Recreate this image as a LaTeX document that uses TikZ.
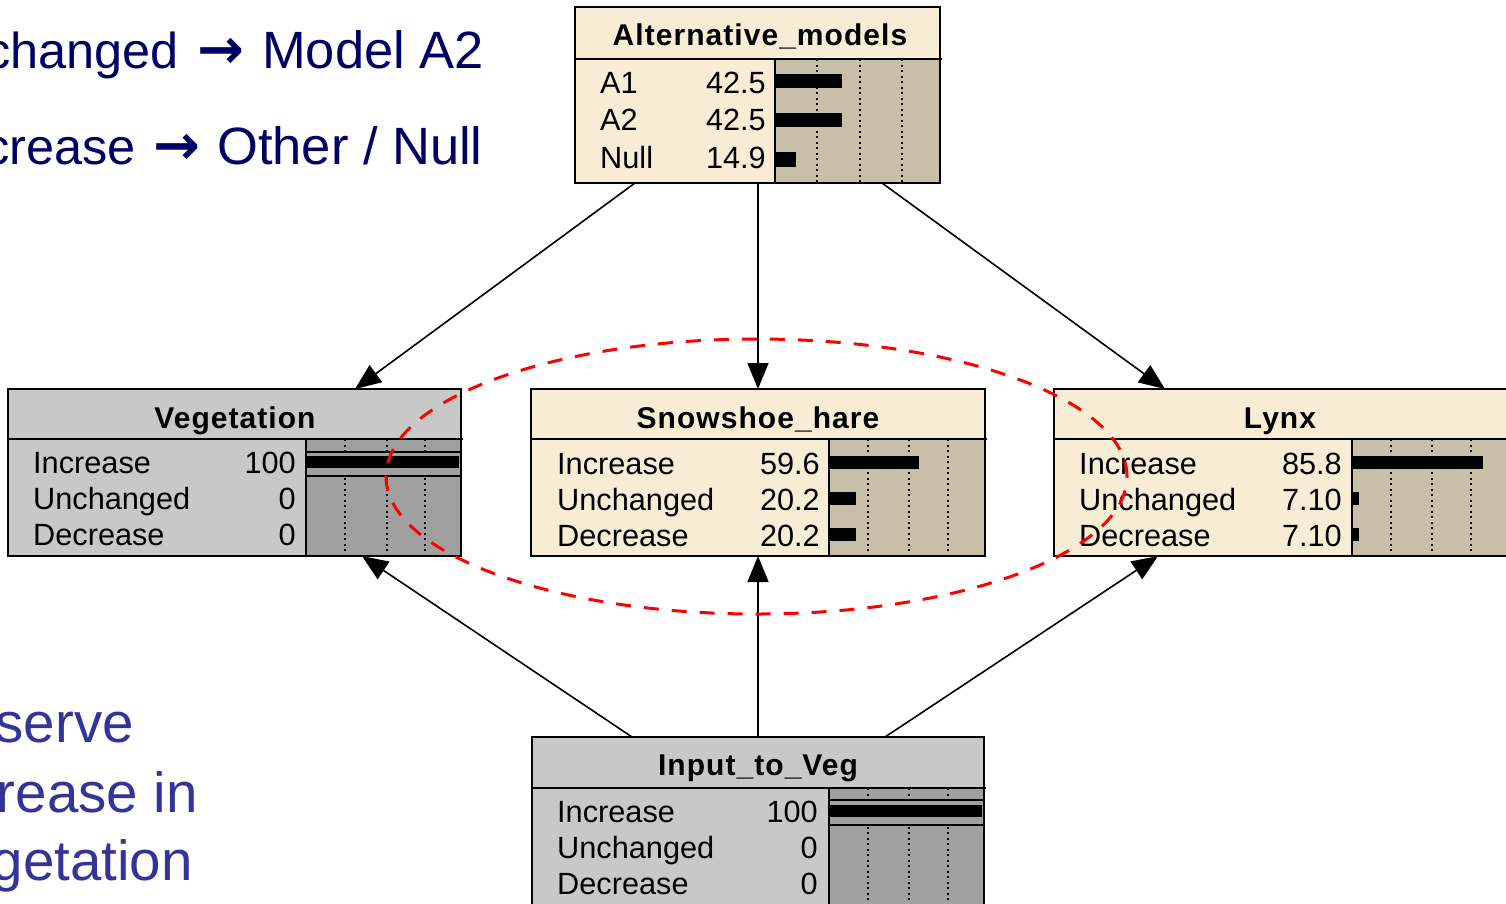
\documentclass[tikz,border=0pt]{standalone}
\usepackage{fontspec}
\setmainfont{Liberation Sans}
\newfontfamily\symfont{DejaVu Sans}
\usetikzlibrary{arrows.meta,calc}
\definecolor{beige}{HTML}{F7EDD4}
\definecolor{beigebar}{HTML}{C8BFA9}
\definecolor{lgray}{HTML}{C8C8C8}
\definecolor{dgray}{HTML}{A0A0A0}
\definecolor{navy}{HTML}{000066}
\definecolor{slate}{HTML}{333399}
\newcommand\rowf{\fontsize{30.7}{36}\selectfont}
\newcommand\ttlf{\fontsize{30}{36}\selectfont\bfseries\addfontfeature{LetterSpace=3.5}}
\tikzset{
  boxbg/.style={inner sep=0pt, outer sep=0pt, draw=none},
  frame/.style={line width=2pt},
  sep/.style={line width=1.6pt},
  grid/.style={line width=2pt, dash pattern=on 2pt off 3.5pt},
  hl/.style={line width=1.5pt},
  ttl/.style={font=\ttlf, anchor=base, inner sep=0pt},
  lbl/.style={font=\rowf, anchor=base west, inner sep=0pt},
  val/.style={font=\rowf, anchor=base east, inner sep=0pt},
  link/.style={line width=1.6pt, -{Triangle[length=26pt,width=21pt]}},
  ring/.style={red, line width=3pt, dash pattern=on 15pt off 13pt},
  bigtxt/.style={font=\fontsize{52.5}{60}\selectfont, text=navy, inner sep=0pt},
  lefttxt/.style={font=\fontsize{50.5}{60}\selectfont, text=navy, inner sep=0pt, anchor=base east},
  arrtxt/.style={font=\fontsize{56}{60}\selectfont\symfont\bfseries, text=navy, inner sep=0pt, anchor=base},
  sidetxt/.style={font=\fontsize{56.5}{66}\selectfont, text=slate, inner sep=0pt, anchor=base east},
}
\begin{document}
\begin{tikzpicture}[x=1pt,y=-1pt]
\useasboundingbox (0,0) rectangle (1506,903);

% ---------- left texts ----------
\node[lefttxt] (t1a) at (179,68) {changed};
\node[arrtxt] (t1b) at (221,68) {→};
\node[bigtxt, anchor=base west] (t1c) at (262,68) {Model A2};
\node[lefttxt] (t2a) at (136,164) {crease};
\node[arrtxt] (t2b) at (177,164) {→};
\node[bigtxt, anchor=base west] (t2c) at (217,164) {Other / Null};
\node[sidetxt] (s1) at (134,742) {serve};
\node[sidetxt] (s2) at (198,812) {rease in};
\node[sidetxt] (s3) at (193,880) {getation};

% ---------- Alternative_models ----------
\node[boxbg, fill=beige, minimum width=365pt, minimum height=176pt] (alt) at (757.5,95) {};
\fill[beigebar] (775,59) rectangle (940,183);
\foreach \x in {817,860,902} \draw[grid] (\x,59) -- (\x,183);
\fill (775,74) rectangle (842,88);
\fill (775,113) rectangle (842,127);
\fill (775,152) rectangle (796,167);
\draw[sep] (575,59) -- (942,59);
\draw[sep] (775,59) -- (775,183);
\draw[frame] (alt.north west) rectangle (alt.south east);
\node[ttl] (altt) at (760,45) {Alternative\_models};
\node[lbl] (altl1) at (600,93) {A1};
\node[lbl] (altl2) at (600,130) {A2};
\node[lbl] (altl3) at (600,168) {Null};
\node[val] (altv1) at (766,93) {42.5};
\node[val] (altv2) at (766,130) {42.5};
\node[val] (altv3) at (766,168) {14.9};

% ---------- Vegetation ----------
\node[boxbg, fill=lgray, minimum width=453pt, minimum height=167pt] (veg) at (234.5,472.5) {};
\fill[dgray] (306,439) rectangle (461,556);
\foreach \x in {345,387,425} \draw[grid] (\x,439) -- (\x,556);
\fill[dgray] (306,452) rectangle (461,476);
\draw[hl] (306,452) -- (461,452);
\draw[hl] (306,476) -- (461,476);
\fill (306,456) rectangle (459,468);
\draw[sep] (8,439) -- (463,439);
\draw[sep] (306,439) -- (306,556);
\draw[frame] (veg.north west) rectangle (veg.south east);
\node[ttl] (vegt) at (235,428) {Vegetation};
\node[lbl] (vegl1) at (33,473) {Increase};
\node[lbl] (vegl2) at (33,509) {Unchanged};
\node[lbl] (vegl3) at (33,545) {Decrease};
\node[val] (vegv1) at (296,473) {100};
\node[val] (vegv2) at (296,509) {0};
\node[val] (vegv3) at (296,545) {0};

% ---------- Snowshoe_hare ----------
\node[boxbg, fill=beige, minimum width=454pt, minimum height=167pt] (hare) at (758,472.5) {};
\fill[beigebar] (829,439) rectangle (985,556);
\foreach \x in {868,909,948} \draw[grid] (\x,439) -- (\x,556);
\fill (829,456) rectangle (919,469);
\fill (829,492) rectangle (856,505);
\fill (829,528) rectangle (856,541);
\draw[sep] (531,439) -- (987,439);
\draw[sep] (829,439) -- (829,556);
\draw[frame] (hare.north west) rectangle (hare.south east);
\node[ttl] (haret) at (758,428) {Snowshoe\_hare};
\node[lbl] (harel1) at (557,474) {Increase};
\node[lbl] (harel2) at (557,510) {Unchanged};
\node[lbl] (harel3) at (557,546) {Decrease};
\node[val] (harev1) at (820,474) {59.6};
\node[val] (harev2) at (820,510) {20.2};
\node[val] (harev3) at (820,546) {20.2};

% ---------- Lynx ----------
\node[boxbg, fill=beige, minimum width=454pt, minimum height=167pt] (lynx) at (1281,472.5) {};
\fill[beigebar] (1352,439) rectangle (1508,556);
\foreach \x in {1391,1432,1471} \draw[grid] (\x,439) -- (\x,556);
\fill (1352,456) rectangle (1483,469);
\fill (1352,492) rectangle (1359,505);
\fill (1352,528) rectangle (1359,541);
\draw[sep] (1054,439) -- (1510,439);
\draw[sep] (1352,439) -- (1352,556);
\draw[frame] (lynx.north west) rectangle (lynx.south east);
\node[ttl] (lynxt) at (1280,428) {Lynx};
\node[lbl] (lynxl1) at (1079,474) {Increase};
\node[lbl] (lynxl2) at (1079,510) {Unchanged};
\node[lbl] (lynxl3) at (1079,546) {Decrease};
\node[val] (lynxv1) at (1342,474) {85.8};
\node[val] (lynxv2) at (1342,510) {7.10};
\node[val] (lynxv3) at (1342,546) {7.10};

% ---------- Input_to_Veg ----------
\node[boxbg, fill=lgray, minimum width=452pt, minimum height=168pt] (inp) at (758,821) {};
\fill[dgray] (829,788) rectangle (984,905);
\foreach \x in {868,909,948} \draw[grid] (\x,788) -- (\x,905);
\fill[dgray] (829,800) rectangle (984,825);
\draw[hl] (829,800) -- (984,800);
\draw[hl] (829,825) -- (984,825);
\fill (829,805) rectangle (982,817);
\draw[sep] (532,788) -- (986,788);
\draw[sep] (829,788) -- (829,905);
\draw[frame] (inp.north west) rectangle (inp.south east);
\node[ttl] (inpt) at (758,775) {Input\_to\_Veg};
\node[lbl] (inpl1) at (557,822) {Increase};
\node[lbl] (inpl2) at (557,858) {Unchanged};
\node[lbl] (inpl3) at (557,894) {Decrease};
\node[val] (inpv1) at (818,822) {100};
\node[val] (inpv2) at (818,858) {0};
\node[val] (inpv3) at (818,894) {0};

% ---------- connectors ----------
\draw[link] ([xshift=-122.5pt]alt.south) -- ([xshift=120.5pt]veg.north);
\draw[link] (alt.south -| hare.north) -- (hare.north);
\draw[link] ([xshift=124.5pt]alt.south) -- ([xshift=-116pt]lynx.north);
\draw[link] ([xshift=-126pt]inp.north) -- ([xshift=127.5pt]veg.south);
\draw[link] (inp.north) -- (hare.south);
\draw[link] ([xshift=127pt]inp.north) -- ([xshift=-123pt]lynx.south);

% ---------- red dashed ellipse ----------
\draw[ring] (756.5,476.5) ellipse [x radius=370.5pt, y radius=137.5pt];
\end{tikzpicture}
\end{document}
